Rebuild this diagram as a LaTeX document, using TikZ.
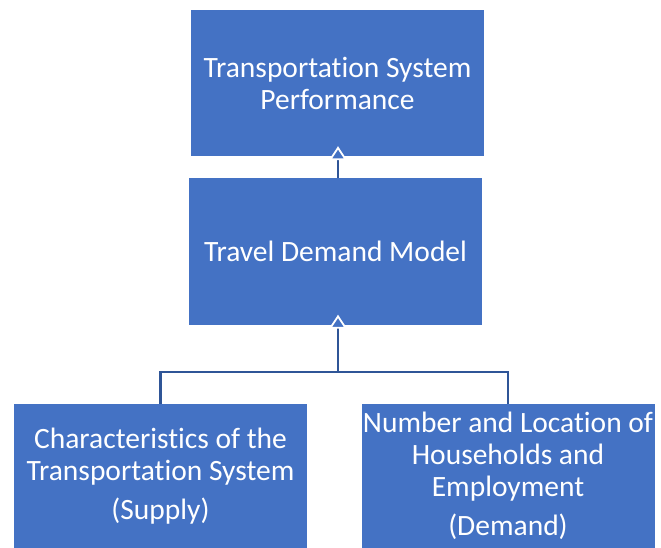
\documentclass[tikz,border=0pt]{standalone}
\usepackage{fontspec}
\setmainfont{Carlito}[RawFeature={-liga;-clig;-calt;-dlig}]
\usetikzlibrary{arrows.meta, positioning}
\definecolor{boxblue}{HTML}{4472C4}
\definecolor{linkblue}{HTML}{2F5597}

\begin{document}
\begin{tikzpicture}[
  x=1pt, y=-1pt,
  font=\fontsize{29.5}{32}\selectfont,
  block/.style={fill=boxblue, text=white, align=center, inner sep=0pt,
                minimum width=293pt, minimum height=146pt},
  link/.style={linkblue, line width=2.2pt},
  up/.style={link, arrows={-Triangle[length=14pt, width=18pt, color=white, fill=boxblue, line width=1.8pt]},
             shorten >=-10pt},
]
\useasboundingbox (0,0) rectangle (661,548);
% model chain
\node[block] (perf) at (337.5,83) {Transportation System\\Performance};
\node[block] (model) at (335.5,251.5) {Travel Demand Model};
% inputs (bottom row)
\node[block, minimum height=144pt] (supply) at (160.5,476)
  {Characteristics of the\\Transportation System\\[7pt](Supply)};
\node[block, minimum height=144pt] (demand) at (508,476)
  {Number and Location of\\Households and\\Employment\\[7pt](Demand)};
\coordinate (join) at (338,372);
% connectors
\draw[link] (supply.north) |- (join) -| (demand.north);
\draw[up] (join) -- (join |- model.south);
\draw[up] (join |- model.north) -- (join |- perf.south);
\end{tikzpicture}
\end{document}
